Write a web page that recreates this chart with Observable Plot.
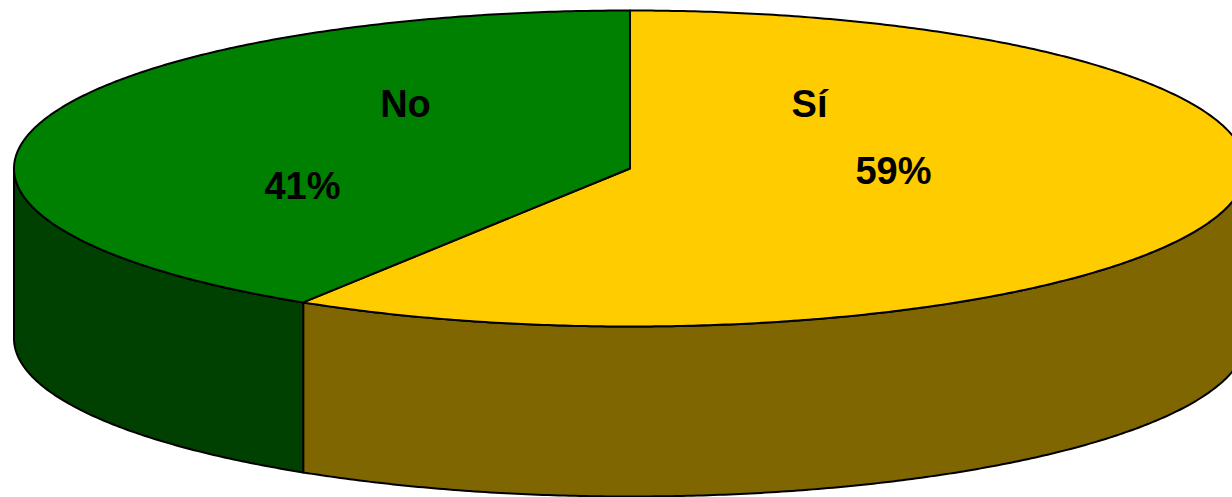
<!DOCTYPE html>
<html>
<head>
<meta charset="utf-8">
<script src="https://cdn.jsdelivr.net/npm/d3@7"></script>
<script src="https://cdn.jsdelivr.net/npm/@observablehq/plot@0.6"></script>
<style>
  html, body { margin: 0; padding: 0; background: #fff; overflow: hidden; }
</style>
</head>
<body>
<div id="chart"></div>
<script>
// ---- data ----
const categories = ["Sí", "No"];
const shares = [58.9, 41.1];          // slice sizes
const percentLabels = ["59%", "41%"]; // labels as printed
const topColors = ["#FFCC00", "#008000"];
const sideColors = ["#806600", "#004000"];

// ---- layout (pixels) ----
const W = 1232, H = 497;
const cx = 629.5, cy = 168, rx = 616, ry = 158, depth = 170;
const dz = depth / ry; // depth in data units

// label anchors (pixels, baseline) as placed in the reference
const namePos = [[809, 116], [405, 116]];
const pctPos = [[893, 183], [302, 198]];

// ---- geometry from data (unit ellipse: x = sin t, y = cos t) ----
const total = d3.sum(shares);
const rad = d => d * Math.PI / 180;
let acc = 0;
const slices = categories.map((c, i) => {
  const a0 = acc / total * 360;
  acc += shares[i];
  const a1 = acc / total * 360;
  return {c, i, a0, a1};
});

function arc(a0, a1, off) {
  const pts = [];
  const n = Math.max(2, Math.ceil((a1 - a0) / 0.5));
  for (let k = 0; k <= n; k++) {
    const a = a0 + (a1 - a0) * k / n;
    pts.push({x: Math.sin(rad(a)), y: Math.cos(rad(a)) - off});
  }
  return pts;
}

const tops = [];
const sides = [];
for (const s of slices) {
  const poly = [{x: 0, y: 0}, ...arc(s.a0, s.a1, 0), {x: 0, y: 0}];
  poly.forEach(p => tops.push({...p, id: s.c, color: topColors[s.i]}));
  const ta = Math.max(s.a0, 90), tb = Math.min(s.a1, 270);
  if (tb > ta) {
    const up = arc(ta, tb, 0);
    const down = arc(ta, tb, dz).reverse();
    const side = [...up, ...down, up[0]];
    side.forEach(p => sides.push({...p, id: s.c, color: sideColors[s.i]}));
  }
}

const toX = px => (px - cx) / rx;
const toY = py => (cy - py) / ry;
const labelData = slices.flatMap(s => [
  {x: toX(namePos[s.i][0]), y: toY(namePos[s.i][1]), text: s.c},
  {x: toX(pctPos[s.i][0]), y: toY(pctPos[s.i][1]), text: percentLabels[s.i]}
]);

const chart = Plot.plot({
  width: W,
  height: H,
  margin: 0,
  x: {domain: [toX(0), toX(W)], range: [0, W], axis: null},
  y: {domain: [toY(0), toY(H)], range: [0, H], axis: null},
  color: {type: "identity"},
  style: {background: "white", overflow: "visible"},
  marks: [
    Plot.line(sides, {x: "x", y: "y", z: "id", fill: "color", stroke: "black", strokeWidth: 2, strokeLinejoin: "round"}),
    Plot.line(tops, {x: "x", y: "y", z: "id", fill: "color", stroke: "black", strokeWidth: 2, strokeLinejoin: "round"}),
    Plot.text(labelData, {
      x: "x", y: "y", text: "text",
      lineAnchor: "bottom", textAnchor: "middle",
      fontSize: 38, fontWeight: "bold",
      fontFamily: "'Liberation Sans', Arial, sans-serif",
      fill: "black"
    })
  ]
});
document.getElementById("chart").appendChild(chart);
</script>
</body>
</html>
